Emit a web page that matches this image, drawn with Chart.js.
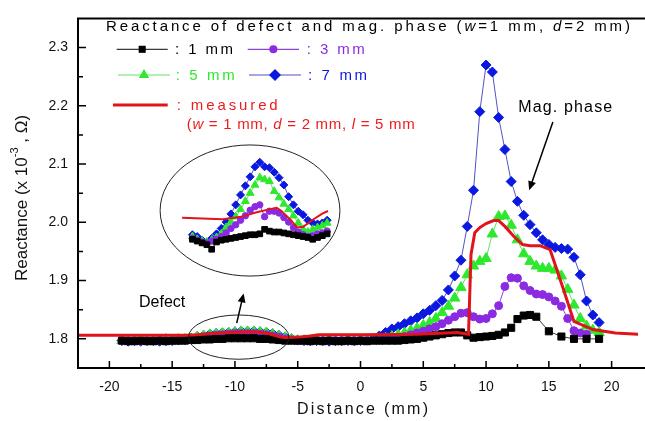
<!DOCTYPE html>
<html>
<head>
<meta charset="utf-8">
<script src="https://cdn.jsdelivr.net/npm/chart.js@4.4.1/dist/chart.umd.min.js"></script>
<style>
  html, body { margin: 0; padding: 0; background: #fff; overflow: hidden; }
  #wrap { position: relative; width: 645px; height: 421px; }
  #main { position: absolute; left: 0; top: 0; }
  #inset { position: absolute; left: 176px; top: 145px; }
</style>
</head>
<body>
<div id="wrap">
  <canvas id="main" width="645" height="421"></canvas>
  <canvas id="inset" width="160" height="117"></canvas>
</div>
<script>
// ---- data (distance in mm, reactance in x10^-3 ohm) ----
const distance = [-19, -18.5, -18, -17.5, -17, -16.5, -16, -15.5, -15, -14.5, -14,
  -13.5, -13, -12.5, -12, -11.5, -11, -10.5, -10, -9.5, -9,
  -8.5, -8, -7.5, -7, -6.5, -6, -5.5, -5, -4.5, -4,
  -3.5, -3, -2.5, -2, -1.5, -1, -0.5, 0, 0.5, 1,
  1.5, 2, 2.5, 3, 3.5, 4, 4.5, 5, 5.5, 6,
  6.5, 7, 7.5, 8, 8.5, 9, 9.5, 10, 10.5, 11,
  11.5, 12, 12.5, 13, 13.5, 14, 14.5, 15, 15.5, 16,
  16.5, 17, 17.5, 18, 18.5, 19];

const len1mm = [1.797, 1.796, 1.796, 1.797, 1.796, 1.796, 1.797, 1.796, 1.797, 1.797, 1.797,
  1.798, 1.798, 1.799, 1.799, 1.800, 1.800, 1.801, 1.801, 1.801, 1.801,
  1.801, 1.800, 1.800, 1.799, 1.798, 1.797, 1.797, 1.797, 1.797, 1.796,
  1.797, 1.796, 1.797, 1.796, 1.796, 1.797, 1.796, 1.797, 1.796, 1.797,
  1.797, 1.797, 1.797, 1.797, 1.798, 1.799, 1.800, 1.802, 1.804, 1.806,
  1.808, 1.810, 1.811, 1.811, 1.806, 1.802, 1.803, 1.804, 1.805, 1.807,
  1.811, 1.819, 1.834, 1.840, 1.841, 1.838, null, 1.813, null, 1.804,
  null, 1.800, null, 1.800, null, 1.800];

const len3mm = [1.797, 1.797, 1.797, 1.796, 1.797, 1.797, 1.797, 1.797, 1.797, 1.798, 1.798,
  1.799, 1.801, 1.803, 1.805, 1.806, 1.807, 1.808, 1.809, 1.809, 1.809,
  1.809, 1.808, 1.807, 1.805, 1.803, 1.800, 1.798, 1.797, 1.797, 1.797,
  1.797, 1.797, 1.797, 1.797, 1.797, 1.797, 1.797, 1.797, 1.797, 1.798,
  1.798, 1.799, 1.800, 1.802, 1.804, 1.807, 1.810, 1.813, 1.817, 1.821,
  1.826, 1.832, 1.838, 1.844, 1.845, 1.838, 1.834, 1.835, 1.843, 1.857,
  1.890, 1.905, 1.904, 1.891, 1.883, 1.877, 1.876, 1.872, 1.865, 1.856,
  1.835, 1.814, 1.810, 1.808, null, null];

const len5mm = [1.797, 1.797, 1.796, 1.797, 1.797, 1.797, 1.797, 1.799, 1.797, 1.799, 1.799,
  1.800, 1.803, 1.805, 1.807, 1.808, 1.809, 1.810, 1.811, 1.812, 1.812,
  1.812, 1.811, 1.810, 1.808, 1.805, 1.802, 1.799, 1.797, 1.797, 1.797,
  1.799, 1.797, 1.797, 1.797, 1.797, 1.797, 1.797, 1.797, 1.797, 1.798,
  1.799, 1.801, 1.804, 1.807, 1.810, 1.814, 1.818, 1.823, 1.828, 1.835,
  1.845, 1.856, 1.870, 1.888, 1.910, 1.925, 1.933, 1.938, 1.980, 2.010,
  2.011, 1.995, 1.970, 1.946, 1.933, 1.925, 1.921, 1.921, 1.918, 1.908,
  1.885, 1.858, 1.835, 1.822, 1.815, 1.811];

const len7mm = [1.797, 1.796, 1.797, 1.796, 1.797, 1.797, 1.796, 1.797, 1.797, 1.798, 1.799,
  1.801, 1.804, 1.806, 1.808, 1.809, 1.810, 1.811, 1.812, 1.813, 1.813,
  1.813, 1.812, 1.811, 1.809, 1.806, 1.803, 1.800, 1.798, 1.797, 1.797,
  1.797, 1.797, 1.796, 1.797, 1.797, 1.797, 1.797, 1.797, 1.798, 1.800,
  1.805, 1.811, 1.817, 1.821, 1.826, 1.831, 1.836, 1.843, 1.849, 1.857,
  1.866, 1.884, 1.908, 1.935, 1.993, 2.055, 2.190, 2.270, 2.258, 2.180,
  2.125, 2.070, 2.036, 2.012, 1.996, 1.982, 1.970, 1.962, 1.957, 1.955,
  1.954, 1.940, 1.910, 1.865, 1.841, 1.828];

const measuredX = [-22.5, -14, -13, -12, -10.5, -8.5, -7.5, -6.5, -6, -5, -4, -3.3, 0, 4.5, 7.7,
  8.6, 8.8, 9.1, 9.5, 10.0, 10.6, 11.0, 11.5, 12.2, 12.9, 13.5, 14.3, 15.1, 16.1, 17.0, 18.5, 20.3, 22.1];
const measuredY = [1.806, 1.806, 1.807, 1.809, 1.811, 1.812, 1.810, 1.804, 1.802, 1.803, 1.805, 1.807, 1.807, 1.808, 1.811,
  1.808, 1.945, 1.982, 1.991, 1.998, 2.003, 2.003, 1.993, 1.976, 1.962, 1.960, 1.960, 1.953, 1.889, 1.830, 1.816, 1.810, 1.808];

// magnified view of the defect region (inset ellipse)
const insetX = [-13.4, -13.0, -12.6, -12.2, -11.8, -11.4, -11.0, -10.6, -10.2, -9.8,
  -9.4, -9.0, -8.6, -8.2, -7.8, -7.4, -7.0, -6.6, -6.2, -5.8,
  -5.4, -5.0, -4.6, -4.2, -3.8, -3.4, -3.0, -2.6, -2.2];
const inset1mm = [1.7968, 1.7960, 1.7952, 1.7944, 1.7924, 1.7956, 1.7964, 1.7968, 1.7972, 1.7976,
  1.7980, 1.7984, 1.7988, 1.7988, 1.7992, 1.8012, 1.8004, 1.8000, 1.8000, 1.7996,
  1.7992, 1.7988, 1.7984, 1.7980, 1.7976, 1.7968, 1.7976, 1.7984, 1.7992];
const inset3mm = [1.7972, 1.7964, 1.7956, 1.7952, 1.7960, 1.7968, 1.7980, 1.7996, 1.8016, 1.8032,
  1.8052, 1.8072, 1.8096, 1.8112, 1.8120, 1.8068, 1.8092, 1.8092, 1.8084, 1.8064,
  1.8044, 1.8020, 1.8000, 1.7988, 1.7980, 1.7984, 1.7992, 1.7996, 1.8004];
const inset5mm = [1.7980, 1.7968, 1.7960, 1.7956, 1.7964, 1.7976, 1.7992, 1.8020, 1.8044, 1.8068,
  1.8100, 1.8136, 1.8172, 1.8208, 1.8240, 1.8232, 1.8224, 1.8180, 1.8152, 1.8124,
  1.8100, 1.8072, 1.8040, 1.8012, 1.8000, 1.8012, 1.8020, 1.8028, 1.8040];
const inset7mm = [1.7988, 1.7980, 1.7964, 1.7956, 1.7972, 1.7992, 1.8016, 1.8044, 1.8080, 1.8120,
  1.8164, 1.8204, 1.8244, 1.8288, 1.8308, 1.8288, 1.8284, 1.8264, 1.8240, 1.8208,
  1.8156, 1.8120, 1.8092, 1.8076, 1.8052, 1.8040, 1.8036, 1.8040, 1.8052];
const insetMeasuredX = [-14.26, -10.9, -9.35, -8.06, -7.03, -6.39, -6.0, -5.23, -4.71, -4.19, -3.42, -2.64, -2.13];
const insetMeasuredY = [1.8063, 1.8057, 1.8067, 1.8087, 1.8100, 1.8107, 1.8093, 1.8053, 1.8020, 1.8023, 1.8053, 1.8080, 1.8093];

const xTicks = [-20, -15, -10, -5, 0, 5, 10, 15, 20];
const xMinorTicks = [-17.5, -12.5, -7.5, -2.5, 2.5, 7.5, 12.5, 17.5];
const yTicks = [1.8, 1.9, 2.0, 2.1, 2.2, 2.3];
const yMinorTicks = [1.85, 1.95, 2.05, 2.15, 2.25];

const FONT = 'Arial, "Liberation Sans", sans-serif';
const C = {
  black: '#000000', blackLine: '#3a3a3a',
  purple: '#8a2be2', purpleLine: '#8a45d8',
  green: '#2ee82e', greenLine: '#63e063',
  blue: '#0a18e0', blueLine: '#5252c4',
  red: '#e0141a', redText: '#ee1c1c'
};

function pts(xs, ys) { return xs.map((x, i) => ({ x: x, y: ys[i] })); }

function series(label, ys, color, lineColor, style, r, xs) {
  return {
    label: label, data: pts(xs || distance, ys),
    borderColor: lineColor, borderWidth: 1, spanGaps: true, tension: 0,
    pointStyle: style, pointRadius: r, pointBackgroundColor: color,
    pointBorderColor: color, pointBorderWidth: 1
  };
}

// ---- drawing helpers ----
function spacedText(ctx, segs, x, y, width) {
  let plain = 0, n = 0;
  segs.forEach(([t, f]) => { ctx.font = f; for (const ch of t) { plain += ctx.measureText(ch).width; n++; } });
  const gap = n > 1 ? (width - plain) / (n - 1) : 0;
  segs.forEach(([t, f]) => {
    ctx.font = f;
    for (const ch of t) { ctx.fillText(ch, x, y); x += ctx.measureText(ch).width + gap; }
  });
}

function marker(ctx, style, x, y, r, color) {
  ctx.fillStyle = color;
  ctx.beginPath();
  if (style === 'rect') {
    const s = r * Math.SQRT1_2;
    ctx.rect(x - s, y - s, 2 * s, 2 * s);
  } else if (style === 'rectRot') {
    ctx.moveTo(x - r, y); ctx.lineTo(x, y - r); ctx.lineTo(x + r, y); ctx.lineTo(x, y + r); ctx.closePath();
  } else if (style === 'triangle') {
    ctx.moveTo(x, y - r); ctx.lineTo(x + 0.866 * r, y + 0.5 * r); ctx.lineTo(x - 0.866 * r, y + 0.5 * r); ctx.closePath();
  } else {
    ctx.arc(x, y, r, 0, Math.PI * 2);
  }
  ctx.fill();
}

function arrow(ctx, x1, y1, x2, y2) {
  const a = Math.atan2(y2 - y1, x2 - x1), h = 9;
  ctx.strokeStyle = '#000'; ctx.fillStyle = '#000'; ctx.lineWidth = 1.5;
  ctx.beginPath(); ctx.moveTo(x1, y1); ctx.lineTo(x2 - Math.cos(a) * h * 0.8, y2 - Math.sin(a) * h * 0.8); ctx.stroke();
  ctx.beginPath();
  ctx.moveTo(x2, y2);
  ctx.lineTo(x2 - h * Math.cos(a) + 4 * Math.sin(a), y2 - h * Math.sin(a) - 4 * Math.cos(a));
  ctx.lineTo(x2 - h * Math.cos(a) - 4 * Math.sin(a), y2 - h * Math.sin(a) + 4 * Math.cos(a));
  ctx.closePath(); ctx.fill();
}

const decorPlugin = {
  id: 'decor',
  afterDatasetsDraw(chart) {
    const ctx = chart.ctx, xs = chart.scales.x, ys = chart.scales.y;
    ctx.save();
    ctx.strokeStyle = '#222'; ctx.lineWidth = 1;
    // ellipse around the defect and the magnified one
    [[-9.7, 1.803, 4.0, 0.038], [-8.8, 2.0203, 7.16, 0.1125]].forEach(([cx, cy, rx, ry]) => {
      const px = xs.getPixelForValue(cx), py = ys.getPixelForValue(cy);
      const prx = xs.getPixelForValue(cx + rx) - px, pry = py - ys.getPixelForValue(cy + ry);
      ctx.beginPath(); ctx.ellipse(px, py, prx, pry, 0, 0, Math.PI * 2); ctx.stroke();
    });
    arrow(ctx, xs.getPixelForValue(-9.86), ys.getPixelForValue(1.827), xs.getPixelForValue(-9.31), ys.getPixelForValue(1.878));
    arrow(ctx, xs.getPixelForValue(15.32), ys.getPixelForValue(2.172), xs.getPixelForValue(13.43), ys.getPixelForValue(2.055));
    ctx.fillStyle = '#000'; ctx.textBaseline = 'middle'; ctx.textAlign = 'left';
    ctx.font = '16px ' + FONT;
    ctx.fillText('Defect', xs.getPixelForValue(-17.64), ys.getPixelForValue(1.8617));
    spacedText(ctx, [['Mag. phase', '16px ' + FONT]], xs.getPixelForValue(12.56), ys.getPixelForValue(2.1967), 94);
    ctx.restore();
  },
  afterDraw(chart) {
    const ctx = chart.ctx, a = chart.chartArea, xs = chart.scales.x, ys = chart.scales.y;
    ctx.save();
    // frame
    ctx.strokeStyle = '#000'; ctx.lineWidth = 2;
    ctx.beginPath();
    ctx.moveTo(chart.width, a.top); ctx.lineTo(a.left, a.top); ctx.lineTo(a.left, a.bottom); ctx.lineTo(chart.width, a.bottom);
    ctx.stroke();
    // inward ticks
    ctx.lineWidth = 1.5;
    ctx.beginPath();
    yTicks.forEach(v => { const p = ys.getPixelForValue(v); ctx.moveTo(a.left, p); ctx.lineTo(a.left + 8, p); });
    yMinorTicks.forEach(v => { const p = ys.getPixelForValue(v); ctx.moveTo(a.left, p); ctx.lineTo(a.left + 5, p); });
    xTicks.forEach(v => { const p = xs.getPixelForValue(v); ctx.moveTo(p, a.bottom); ctx.lineTo(p, a.bottom - 7); });
    xMinorTicks.forEach(v => { const p = xs.getPixelForValue(v); ctx.moveTo(p, a.bottom); ctx.lineTo(p, a.bottom - 4); });
    ctx.stroke();

    // axis titles
    ctx.fillStyle = '#111'; ctx.textBaseline = 'middle'; ctx.textAlign = 'left';
    spacedText(ctx, [['Distance (mm)', '16px ' + FONT]], 297, 410, 131);
    ctx.save();
    ctx.translate(22, 198); ctx.rotate(-Math.PI / 2);
    ctx.font = '17px ' + FONT;
    const t1 = 'Reactance (x 10', t3 = ' , \u03A9)';
    const w1 = ctx.measureText(t1).width, w3 = ctx.measureText(t3).width;
    ctx.font = '11px ' + FONT;
    const w2 = ctx.measureText('-3').width;
    let x0 = -(w1 + w2 + w3) / 2;
    ctx.font = '17px ' + FONT; ctx.fillText(t1, x0, 0);
    ctx.font = '11px ' + FONT; ctx.fillText('-3', x0 + w1, -7);
    ctx.font = '17px ' + FONT; ctx.fillText(t3, x0 + w1 + w2, 0);
    ctx.restore();

    // legend block
    const f15 = '15px ' + FONT, i15 = 'italic 15px ' + FONT;
    ctx.fillStyle = '#000';
    spacedText(ctx, [['Reactance of defect and mag. phase (', f15], ['w', i15], ['=1 mm, ', f15], ['d', i15], ['=2 mm)', f15]], 106, 27, 524);
    const rows = [
      [116.7, 167.7, 49.3, C.blackLine, C.black, 'rect', 5, ': 1 mm', C.black, 175, 58],
      [247.7, 299, 49.3, C.purpleLine, C.purple, 'circle', 4, ': 3 mm', C.purple, 306.7, 58],
      [118, 170, 75, C.greenLine, C.green, 'triangle', 6, ': 5 mm', C.green, 175.7, 59],
      [249, 301, 75, C.blueLine, C.blue, 'rectRot', 6, ': 7 mm', C.blue, 308, 59]
    ];
    rows.forEach(([l, r, y, lc, mc, st, rad, txt, tc, tx, tw]) => {
      ctx.strokeStyle = lc; ctx.lineWidth = 1.2;
      ctx.beginPath(); ctx.moveTo(l, y); ctx.lineTo(r, y); ctx.stroke();
      marker(ctx, st, (l + r) / 2, y, rad, mc);
      ctx.fillStyle = tc;
      spacedText(ctx, [[txt, f15]], tx, y + 1, tw);
    });
    ctx.strokeStyle = C.red; ctx.lineWidth = 3;
    ctx.beginPath(); ctx.moveTo(113, 105); ctx.lineTo(167.7, 105); ctx.stroke();
    ctx.fillStyle = C.redText;
    spacedText(ctx, [[': measured', f15]], 176.7, 106, 101);
    spacedText(ctx, [['(', f15], ['w', i15], [' = 1 mm, ', f15], ['d', i15], [' = 2 mm, ', f15], ['l', i15], [' = 5 mm', f15]], 186.7, 125, 228);
    ctx.restore();
  }
};

const tickFont = { family: FONT, size: 14 };

new Chart(document.getElementById('main'), {
  type: 'line',
  data: {
    datasets: [
      { label: 'measured', data: pts(measuredX, measuredY), borderColor: C.red, borderWidth: 3, pointRadius: 0, tension: 0 },
      series('1 mm', len1mm, C.black, C.blackLine, 'rect', 5),
      series('3 mm', len3mm, C.purple, C.purpleLine, 'circle', 4),
      series('5 mm', len5mm, C.green, C.greenLine, 'triangle', 6),
      series('7 mm', len7mm, C.blue, C.blueLine, 'rectRot', 5)
    ]
  },
  options: {
    responsive: false,
    animation: false,
    devicePixelRatio: 1,
    layout: { padding: { top: 8, left: 0, right: 0, bottom: 0 } },
    plugins: { legend: { display: false }, tooltip: { enabled: false } },
    scales: {
      x: {
        type: 'linear', min: -22.5, max: 22.1,
        afterFit: s => { s.height = 53; },
        afterBuildTicks: s => { s.ticks = xTicks.map(v => ({ value: v })); },
        grid: { display: false, drawTicks: false },
        border: { display: false },
        ticks: { padding: 11, font: tickFont, color: '#111', maxRotation: 0, autoSkip: false, callback: v => String(v) }
      },
      y: {
        type: 'linear', min: 1.75, max: 2.35,
        afterFit: s => { s.width = 78; },
        afterBuildTicks: s => { s.ticks = yTicks.map(v => ({ value: v })); },
        grid: { display: false, drawTicks: false },
        border: { display: false },
        ticks: { padding: 10, font: tickFont, color: '#111', autoSkip: false, callback: v => v.toFixed(1) }
      }
    }
  },
  plugins: [decorPlugin]
});

function insetSeries(ys, color, lineColor, style, r) {
  return {
    data: pts(insetX, ys), borderColor: lineColor, borderWidth: 1, tension: 0, clip: false,
    pointStyle: style, pointRadius: r, pointBackgroundColor: color, pointBorderColor: color, pointBorderWidth: 1
  };
}

new Chart(document.getElementById('inset'), {
  type: 'line',
  data: {
    datasets: [
      { data: pts(insetMeasuredX, insetMeasuredY), borderColor: C.red, borderWidth: 2, pointRadius: 0, tension: 0, clip: false },
      insetSeries(inset1mm, C.black, C.blackLine, 'rect', 4),
      insetSeries(inset3mm, C.purple, C.purpleLine, 'circle', 3.2),
      insetSeries(inset5mm, C.green, C.greenLine, 'triangle', 4.5),
      insetSeries(inset7mm, C.blue, C.blueLine, 'rectRot', 4)
    ]
  },
  options: {
    responsive: false,
    animation: false,
    devicePixelRatio: 1,
    layout: { padding: 0 },
    plugins: { legend: { display: false }, tooltip: { enabled: false } },
    scales: {
      x: { type: 'linear', display: false, min: -14.31, max: -1.92 },
      y: { type: 'linear', display: false, min: 1.7892, max: 1.836 }
    }
  }
});
</script>
</body>
</html>
